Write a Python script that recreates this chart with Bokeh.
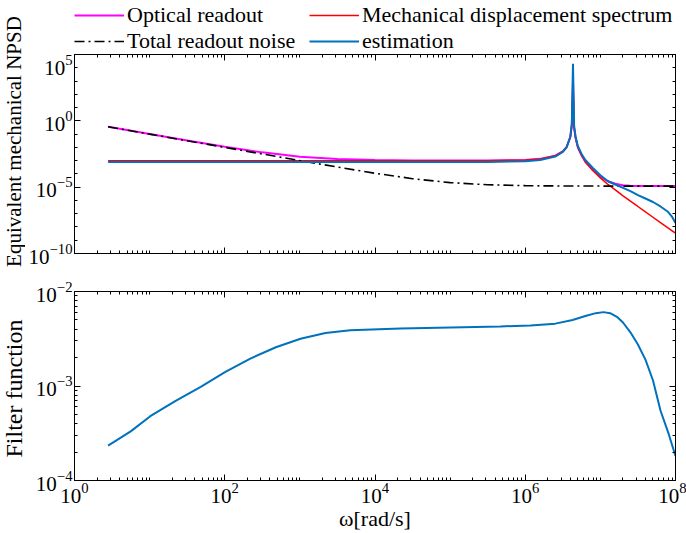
import math
from bokeh.plotting import figure
from bokeh.models import LogAxis, FixedTicker, Legend, LegendItem, Range1d, Label
from bokeh.layouts import column, row
from bokeh.embed import file_html
from bokeh.resources import INLINE

# ---------------- data ----------------
omega = [2.8, 5.0, 10, 31.6, 100, 316, 1.0e3, 3.16e3, 1.0e4, 3.16e4, 1.0e5, 3.16e5,
         1.0e6, 1.58e6, 2.51e6, 3.16e6, 3.55e6, 3.98e6, 4.17e6, 4.32e6, 4.47e6, 4.68e6,
         5.01e6, 5.62e6, 6.31e6, 7.94e6, 1.0e7, 1.26e7, 1.58e7, 2.0e7, 2.51e7, 3.16e7,
         3.98e7, 5.01e7, 6.31e7, 7.94e7, 8.91e7, 1.0e8]

optical_readout = [0.36, 0.20, 0.10, 3.3e-2, 1.1e-2, 4.2e-3, 2.0e-3, 1.33e-3, 1.11e-3, 1.04e-3,
                   1.02e-3, 1.01e-3, 1.13e-3, 1.36e-3, 2.35e-3, 4.9e-3, 1.05e-2, 6.0e-2, 0.5,
                   1.0e3, 0.32, 5.0e-2, 1.0e-2, 2.5e-3, 8.1e-4, 1.9e-4, 6.2e-5, 2.8e-5, 1.8e-5,
                   1.42e-5, 1.29e-5, 1.24e-5, 1.22e-5, 1.21e-5, 1.2e-5, 1.2e-5, 1.2e-5, 1.2e-5]

mechanical_spectrum = [1.0e-3, 1.0e-3, 1.0e-3, 1.0e-3, 1.0e-3, 1.0e-3, 1.0e-3, 1.0e-3, 1.0e-3,
                       1.0e-3, 1.0e-3, 1.0e-3, 1.12e-3, 1.35e-3, 2.34e-3, 4.9e-3, 1.05e-2, 6.0e-2,
                       0.5, 1.0e3, 0.32, 5.0e-2, 1.0e-2, 2.5e-3, 7.9e-4, 1.8e-4, 5.0e-5, 1.6e-5,
                       6.3e-6, 2.2e-6, 8.9e-7, 3.5e-7, 1.35e-7, 5.4e-8, 2.1e-8, 8.5e-9, 5.4e-9, 3.4e-9]

total_readout_noise = [0.355, 0.20, 0.10, 3.16e-2, 1.0e-2, 3.17e-3, 1.01e-3, 3.28e-4, 1.12e-4,
                       4.36e-5, 2.2e-5, 1.52e-5, 1.3e-5, 1.26e-5, 1.24e-5, 1.23e-5, 1.22e-5,
                       1.22e-5, 1.22e-5, 1.22e-5, 1.22e-5, 1.22e-5, 1.22e-5, 1.21e-5, 1.21e-5,
                       1.21e-5, 1.21e-5, 1.2e-5, 1.2e-5, 1.2e-5, 1.2e-5, 1.2e-5, 1.2e-5, 1.2e-5,
                       1.2e-5, 1.2e-5, 1.2e-5, 1.2e-5]

estimation = [7.9e-4, 7.9e-4, 7.9e-4, 7.9e-4, 7.9e-4, 7.9e-4, 7.9e-4, 7.9e-4, 7.9e-4, 7.9e-4,
              7.9e-4, 7.9e-4, 8.9e-4, 1.12e-3, 2.0e-3, 4.5e-3, 1.0e-2, 6.3e-2, 0.63, 2.0e4,
              0.4, 6.3e-2, 1.26e-2, 3.2e-3, 1.12e-3, 2.8e-4, 7.9e-5, 2.8e-5, 1.58e-5, 8.9e-6,
              5.0e-6, 2.5e-6, 1.4e-6, 7.6e-7, 3.5e-7, 1.4e-7, 6.3e-8, 2.0e-8]

filter_omega = [2.8, 5.6, 10.2, 21.9, 47.9, 102, 219, 479, 1.02e3, 2.19e3, 4.68e3, 2.19e4,
                1.02e5, 4.68e5, 1.17e6, 2.51e6, 4.27e6, 6.31e6, 8.71e6, 1.1e7, 1.35e7,
                1.66e7, 2.0e7, 2.51e7, 3.16e7, 3.98e7, 5.01e7, 6.31e7, 8.13e7, 1.0e8]
filter_function = [2.34e-4, 3.31e-4, 4.79e-4, 6.92e-4, 9.77e-4, 1.41e-3, 1.95e-3, 2.57e-3,
                   3.16e-3, 3.63e-3, 3.89e-3, 4.07e-3, 4.17e-3, 4.27e-3, 4.37e-3, 4.57e-3,
                   5.0e-3, 5.5e-3, 5.9e-3, 6.05e-3, 5.9e-3, 5.4e-3, 4.7e-3, 3.7e-3, 2.75e-3,
                   1.9e-3, 1.15e-3, 5.5e-4, 3.09e-4, 1.82e-4]

x_major = [1, 1e2, 1e4, 1e6, 1e8]
x_minor = [m * 10 ** k for k in range(0, 8) for m in range(1, 10) if not (m == 1 and k % 2 == 0)]
top_y_major = [1e-10, 1e-5, 1, 1e5]
top_y_minor = [10.0 ** k for k in range(-10, 6)]
bot_y_major = [1e-4, 1e-3, 1e-2]
bot_y_minor = [m * 10 ** k for k in range(-4, -2) for m in range(2, 10)]

series_labels = ["Optical readout", "Mechanical displacement spectrum",
                 "Total readout noise", "estimation"]

SERIF = "Liberation Serif"
TICK_FS = "21px"
LABEL_FS = "22px"

LABEL_W = 25          # width of the strip that holds the rotated y-axis titles
MAIN_W = 686 - LABEL_W
TOTAL_H = 533


def style_axis(ax, major, minor, labels=True):
    ax.ticker = FixedTicker(ticks=major, minor_ticks=minor)
    ax.major_tick_in = 6
    ax.major_tick_out = 0
    ax.minor_tick_in = 3
    ax.minor_tick_out = 0
    ax.axis_line_color = "black"
    ax.major_tick_line_color = "black"
    ax.minor_tick_line_color = "black"
    ax.major_label_text_font = SERIF
    ax.major_label_text_color = "black"
    ax.axis_label_text_font = SERIF
    ax.axis_label_text_font_size = LABEL_FS
    ax.axis_label_text_font_style = "normal"
    ax.axis_label_text_color = "black"
    if labels:
        ax.major_label_text_font_size = TICK_FS
        ax.major_label_standoff = 2
    else:
        ax.major_label_text_font_size = "1px"
        ax.major_label_text_alpha = 0
        ax.major_label_standoff = 0


def make_fig(height, yr, ymajor, yminor, top_b, bot_b, xlabels):
    p = figure(width=MAIN_W, height=height, x_axis_type="log", y_axis_type="log",
               x_range=Range1d(1, 1e8), y_range=yr,
               output_backend="svg", toolbar_location=None,
               min_border_left=43, min_border_right=11,
               min_border_top=top_b, min_border_bottom=bot_b)
    p.grid.visible = False
    p.outline_line_color = "black"
    p.background_fill_color = "white"
    p.border_fill_color = "white"
    xb = p.xaxis[0]
    yl = p.yaxis[0]
    style_axis(xb, x_major, x_minor, labels=xlabels)
    style_axis(yl, ymajor, yminor, labels=True)
    ra = LogAxis()
    style_axis(ra, ymajor, yminor, labels=False)
    p.add_layout(ra, "right")
    ta = LogAxis()
    style_axis(ta, x_major, x_minor, labels=False)
    p.add_layout(ta, "above")
    return p, xb, yl


def blank_fig(width, height, xr, yr):
    f = figure(width=width, height=height, x_range=xr, y_range=yr,
               x_axis_location=None, y_axis_location=None,
               output_backend="svg", toolbar_location=None,
               min_border=0, min_border_left=0, min_border_right=0,
               min_border_top=0, min_border_bottom=0)
    f.grid.visible = False
    f.outline_line_color = None
    f.background_fill_color = "white"
    f.border_fill_color = "white"
    return f


styles = [dict(line_color="#FF00FF", line_width=2),
          dict(line_color="#FF0000", line_width=1.5),
          dict(line_color="black", line_width=1.6, line_dash="10 4 2 4"),
          dict(line_color="#0072BD", line_width=2)]

# ---------------- legend strip ----------------
leg_fig = blank_fig(MAIN_W, 54, Range1d(0, 1), Range1d(0, 1))
# legend-only renderers: one point pair placed outside the visible range
leg_renderers = [leg_fig.line([-5, -4], [-5, -4], **st) for st in styles]
legend = Legend(items=[LegendItem(label=lab, renderers=[r])
                       for lab, r in zip(series_labels, leg_renderers)],
                ncols=2, orientation="horizontal", location=(0, 0))
legend.label_text_font = SERIF
legend.label_text_font_size = LABEL_FS
legend.label_text_line_height = 1.1
legend.label_text_color = "black"
legend.glyph_width = 50
legend.glyph_height = 20
legend.label_standoff = 3
legend.label_width = 182
legend.spacing = 0
legend.padding = 0
legend.margin = 0
legend.border_line_color = None
legend.background_fill_alpha = 0
leg_fig.add_layout(legend, "center")

# ---------------- top panel ----------------
top, top_x, top_y = make_fig(224, Range1d(1e-10, 1e5), top_y_major, top_y_minor, 0, 25, False)
top.line(omega, optical_readout, **styles[0])
top.line(omega, mechanical_spectrum, **styles[1])
top.line(omega, total_readout_noise, **styles[2])
top.line(omega, estimation, **styles[3])

# ---------------- bottom panel ----------------
bottom, bot_x, bot_y = make_fig(255, Range1d(1e-4, 1e-2), bot_y_major, bot_y_minor, 13, 45, True)
bot_x.axis_label = "\u03c9[rad/s]"
bot_x.axis_label_standoff = 0
bottom.line(filter_omega, filter_function, **styles[3])

# ---------------- y-axis titles strip ----------------
lab_fig = blank_fig(LABEL_W, TOTAL_H, Range1d(0, LABEL_W), Range1d(0, TOTAL_H))
lab_fig.add_layout(Label(x=13, y=TOTAL_H - 141, text="Equivalent mechanical NPSD",
                         angle=math.pi / 2, text_align="center", text_baseline="middle",
                         text_font=SERIF, text_font_size="21px", text_color="black"))
lab_fig.add_layout(Label(x=13, y=TOTAL_H - 388, text="Filter function",
                         angle=math.pi / 2, text_align="center", text_baseline="middle",
                         text_font=SERIF, text_font_size="24px", text_color="black"))

layout = row(lab_fig, column(leg_fig, top, bottom, spacing=0), spacing=0)
open("out.html", "w").write(file_html(layout, INLINE))
